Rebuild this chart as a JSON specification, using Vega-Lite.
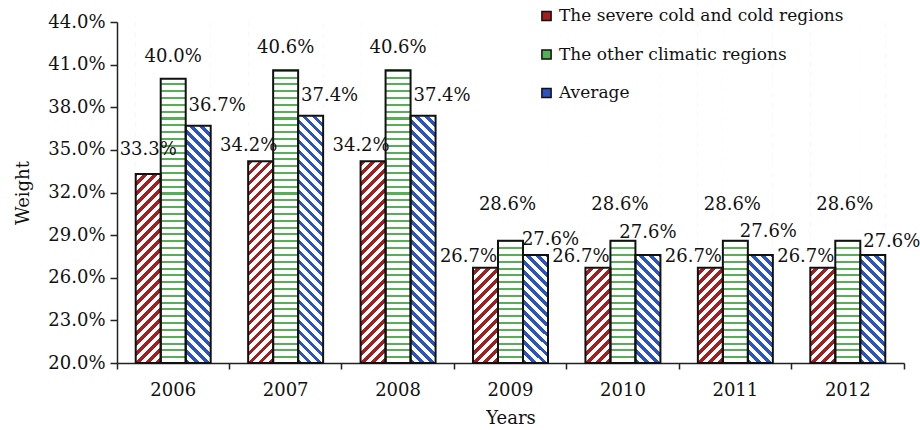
{
  "$schema": "https://vega.github.io/schema/vega-lite/v6.json",
  "width": 787,
  "height": 341,
  "autosize": {"type": "none"},
  "padding": {"left": 117, "top": 22, "right": 16, "bottom": 67},
  "background": "white",
  "config": {
    "view": {"stroke": null},
    "font": "DejaVu Serif",
    "axis": {
      "grid": false,
      "labelFont": "DejaVu Serif",
      "labelFontSize": 18,
      "labelColor": "#111",
      "titleFont": "DejaVu Serif",
      "titleFontSize": 18,
      "titleFontWeight": "normal",
      "titleColor": "#111",
      "domainColor": "#222",
      "domainWidth": 1.5,
      "tickColor": "#222",
      "tickWidth": 1.5
    }
  },
  "data": {
    "values": [
      {"year": "2006", "series": "The severe cold and cold regions", "value": 0.333},
      {"year": "2006", "series": "The other climatic regions", "value": 0.400},
      {"year": "2006", "series": "Average", "value": 0.367},
      {"year": "2007", "series": "The severe cold and cold regions", "value": 0.342},
      {"year": "2007", "series": "The other climatic regions", "value": 0.406},
      {"year": "2007", "series": "Average", "value": 0.374},
      {"year": "2008", "series": "The severe cold and cold regions", "value": 0.342},
      {"year": "2008", "series": "The other climatic regions", "value": 0.406},
      {"year": "2008", "series": "Average", "value": 0.374},
      {"year": "2009", "series": "The severe cold and cold regions", "value": 0.267},
      {"year": "2009", "series": "The other climatic regions", "value": 0.286},
      {"year": "2009", "series": "Average", "value": 0.276},
      {"year": "2010", "series": "The severe cold and cold regions", "value": 0.267},
      {"year": "2010", "series": "The other climatic regions", "value": 0.286},
      {"year": "2010", "series": "Average", "value": 0.276},
      {"year": "2011", "series": "The severe cold and cold regions", "value": 0.267},
      {"year": "2011", "series": "The other climatic regions", "value": 0.286},
      {"year": "2011", "series": "Average", "value": 0.276},
      {"year": "2012", "series": "The severe cold and cold regions", "value": 0.267},
      {"year": "2012", "series": "The other climatic regions", "value": 0.286},
      {"year": "2012", "series": "Average", "value": 0.276}
    ]
  },
  "encoding": {
    "x": {
      "field": "year",
      "type": "nominal",
      "scale": {"paddingInner": 0, "paddingOuter": 0},
      "axis": {"title": "Years", "labelAngle": 0, "bandPosition": 1, "tickExtra": true, "tickSize": 6, "labelPadding": 12, "titlePadding": 10}
    },
    "xOffset": {
      "field": "series",
      "type": "nominal",
      "scale": {"domain": ["The severe cold and cold regions", "The other climatic regions", "Average"], "paddingInner": 0, "paddingOuter": 0.749}
    },
    "y": {
      "field": "value",
      "type": "quantitative",
      "scale": {"domain": [0.2, 0.44], "zero": false, "nice": false},
      "axis": {"values": [0.2, 0.23, 0.26, 0.29, 0.32, 0.35, 0.38, 0.41, 0.44], "format": ".1%", "title": "Weight", "tickSize": 7, "labelPadding": 5, "titlePadding": 15}
    }
  },
  "layer": [
    {
      "description": "hatch fill: every column spans the full plot height so the stripe gradients share one bounding box",
      "mark": {"type": "bar"},
      "encoding": {
        "y": {
          "datum": 0.44,
          "type": "quantitative",
          "scale": {"domain": [0.2, 0.44], "zero": false, "nice": false},
          "axis": {"values": [0.2, 0.23, 0.26, 0.29, 0.32, 0.35, 0.38, 0.41, 0.44], "format": ".1%", "title": "Weight", "tickSize": 7, "labelPadding": 5, "titlePadding": 15}
        },
        "y2": {"datum": 0.2},
        "fill": {
          "condition": [
            {
              "test": "datum.series === 'The severe cold and cold regions'",
              "value": {
                "gradient": "linear", "x1": 0, "y1": 0, "x2": 0.0855, "y2": 1.1667,
                "stops": [
                  {"offset": 0, "color": "#a31f1f"}, {"offset": 0.012, "color": "#a31f1f"}, {"offset": 0.012, "color": "#fff"}, {"offset": 0.025, "color": "#fff"},
                  {"offset": 0.025, "color": "#a31f1f"}, {"offset": 0.037, "color": "#a31f1f"}, {"offset": 0.037, "color": "#fff"}, {"offset": 0.05, "color": "#fff"},
                  {"offset": 0.05, "color": "#a31f1f"}, {"offset": 0.062, "color": "#a31f1f"}, {"offset": 0.062, "color": "#fff"}, {"offset": 0.075, "color": "#fff"},
                  {"offset": 0.075, "color": "#a31f1f"}, {"offset": 0.087, "color": "#a31f1f"}, {"offset": 0.087, "color": "#fff"}, {"offset": 0.1, "color": "#fff"},
                  {"offset": 0.1, "color": "#a31f1f"}, {"offset": 0.112, "color": "#a31f1f"}, {"offset": 0.112, "color": "#fff"}, {"offset": 0.125, "color": "#fff"},
                  {"offset": 0.125, "color": "#a31f1f"}, {"offset": 0.137, "color": "#a31f1f"}, {"offset": 0.137, "color": "#fff"}, {"offset": 0.15, "color": "#fff"},
                  {"offset": 0.15, "color": "#a31f1f"}, {"offset": 0.162, "color": "#a31f1f"}, {"offset": 0.162, "color": "#fff"}, {"offset": 0.175, "color": "#fff"},
                  {"offset": 0.175, "color": "#a31f1f"}, {"offset": 0.187, "color": "#a31f1f"}, {"offset": 0.187, "color": "#fff"}, {"offset": 0.2, "color": "#fff"},
                  {"offset": 0.2, "color": "#a31f1f"}, {"offset": 0.212, "color": "#a31f1f"}, {"offset": 0.212, "color": "#fff"}, {"offset": 0.225, "color": "#fff"},
                  {"offset": 0.225, "color": "#a31f1f"}, {"offset": 0.237, "color": "#a31f1f"}, {"offset": 0.237, "color": "#fff"}, {"offset": 0.25, "color": "#fff"},
                  {"offset": 0.25, "color": "#a31f1f"}, {"offset": 0.262, "color": "#a31f1f"}, {"offset": 0.262, "color": "#fff"}, {"offset": 0.275, "color": "#fff"},
                  {"offset": 0.275, "color": "#a31f1f"}, {"offset": 0.287, "color": "#a31f1f"}, {"offset": 0.287, "color": "#fff"}, {"offset": 0.3, "color": "#fff"},
                  {"offset": 0.3, "color": "#a31f1f"}, {"offset": 0.312, "color": "#a31f1f"}, {"offset": 0.312, "color": "#fff"}, {"offset": 0.325, "color": "#fff"},
                  {"offset": 0.325, "color": "#a31f1f"}, {"offset": 0.337, "color": "#a31f1f"}, {"offset": 0.337, "color": "#fff"}, {"offset": 0.35, "color": "#fff"},
                  {"offset": 0.35, "color": "#a31f1f"}, {"offset": 0.362, "color": "#a31f1f"}, {"offset": 0.362, "color": "#fff"}, {"offset": 0.375, "color": "#fff"},
                  {"offset": 0.375, "color": "#a31f1f"}, {"offset": 0.387, "color": "#a31f1f"}, {"offset": 0.387, "color": "#fff"}, {"offset": 0.4, "color": "#fff"},
                  {"offset": 0.4, "color": "#a31f1f"}, {"offset": 0.412, "color": "#a31f1f"}, {"offset": 0.412, "color": "#fff"}, {"offset": 0.425, "color": "#fff"},
                  {"offset": 0.425, "color": "#a31f1f"}, {"offset": 0.437, "color": "#a31f1f"}, {"offset": 0.437, "color": "#fff"}, {"offset": 0.45, "color": "#fff"},
                  {"offset": 0.45, "color": "#a31f1f"}, {"offset": 0.462, "color": "#a31f1f"}, {"offset": 0.462, "color": "#fff"}, {"offset": 0.475, "color": "#fff"},
                  {"offset": 0.475, "color": "#a31f1f"}, {"offset": 0.487, "color": "#a31f1f"}, {"offset": 0.487, "color": "#fff"}, {"offset": 0.5, "color": "#fff"},
                  {"offset": 0.5, "color": "#a31f1f"}, {"offset": 0.512, "color": "#a31f1f"}, {"offset": 0.512, "color": "#fff"}, {"offset": 0.525, "color": "#fff"},
                  {"offset": 0.525, "color": "#a31f1f"}, {"offset": 0.537, "color": "#a31f1f"}, {"offset": 0.537, "color": "#fff"}, {"offset": 0.55, "color": "#fff"},
                  {"offset": 0.55, "color": "#a31f1f"}, {"offset": 0.562, "color": "#a31f1f"}, {"offset": 0.562, "color": "#fff"}, {"offset": 0.575, "color": "#fff"},
                  {"offset": 0.575, "color": "#a31f1f"}, {"offset": 0.587, "color": "#a31f1f"}, {"offset": 0.587, "color": "#fff"}, {"offset": 0.6, "color": "#fff"},
                  {"offset": 0.6, "color": "#a31f1f"}, {"offset": 0.612, "color": "#a31f1f"}, {"offset": 0.612, "color": "#fff"}, {"offset": 0.625, "color": "#fff"},
                  {"offset": 0.625, "color": "#a31f1f"}, {"offset": 0.637, "color": "#a31f1f"}, {"offset": 0.637, "color": "#fff"}, {"offset": 0.65, "color": "#fff"},
                  {"offset": 0.65, "color": "#a31f1f"}, {"offset": 0.662, "color": "#a31f1f"}, {"offset": 0.662, "color": "#fff"}, {"offset": 0.675, "color": "#fff"},
                  {"offset": 0.675, "color": "#a31f1f"}, {"offset": 0.687, "color": "#a31f1f"}, {"offset": 0.687, "color": "#fff"}, {"offset": 0.7, "color": "#fff"},
                  {"offset": 0.7, "color": "#a31f1f"}, {"offset": 0.712, "color": "#a31f1f"}, {"offset": 0.712, "color": "#fff"}, {"offset": 0.725, "color": "#fff"},
                  {"offset": 0.725, "color": "#a31f1f"}, {"offset": 0.737, "color": "#a31f1f"}, {"offset": 0.737, "color": "#fff"}, {"offset": 0.75, "color": "#fff"},
                  {"offset": 0.75, "color": "#a31f1f"}, {"offset": 0.762, "color": "#a31f1f"}, {"offset": 0.762, "color": "#fff"}, {"offset": 0.775, "color": "#fff"},
                  {"offset": 0.775, "color": "#a31f1f"}, {"offset": 0.787, "color": "#a31f1f"}, {"offset": 0.787, "color": "#fff"}, {"offset": 0.8, "color": "#fff"},
                  {"offset": 0.8, "color": "#a31f1f"}, {"offset": 0.812, "color": "#a31f1f"}, {"offset": 0.812, "color": "#fff"}, {"offset": 0.825, "color": "#fff"},
                  {"offset": 0.825, "color": "#a31f1f"}, {"offset": 0.837, "color": "#a31f1f"}, {"offset": 0.837, "color": "#fff"}, {"offset": 0.85, "color": "#fff"},
                  {"offset": 0.85, "color": "#a31f1f"}, {"offset": 0.862, "color": "#a31f1f"}, {"offset": 0.862, "color": "#fff"}, {"offset": 0.875, "color": "#fff"},
                  {"offset": 0.875, "color": "#a31f1f"}, {"offset": 0.887, "color": "#a31f1f"}, {"offset": 0.887, "color": "#fff"}, {"offset": 0.9, "color": "#fff"},
                  {"offset": 0.9, "color": "#a31f1f"}, {"offset": 0.912, "color": "#a31f1f"}, {"offset": 0.912, "color": "#fff"}, {"offset": 0.925, "color": "#fff"},
                  {"offset": 0.925, "color": "#a31f1f"}, {"offset": 0.937, "color": "#a31f1f"}, {"offset": 0.937, "color": "#fff"}, {"offset": 0.95, "color": "#fff"},
                  {"offset": 0.95, "color": "#a31f1f"}, {"offset": 0.962, "color": "#a31f1f"}, {"offset": 0.962, "color": "#fff"}, {"offset": 0.975, "color": "#fff"},
                  {"offset": 0.975, "color": "#a31f1f"}, {"offset": 0.987, "color": "#a31f1f"}, {"offset": 0.987, "color": "#fff"}, {"offset": 1, "color": "#fff"}
                ]
              }
            },
            {
              "test": "datum.series === 'The other climatic regions'",
              "value": {
                "gradient": "linear", "x1": 0, "y1": 0, "x2": 0, "y2": 1,
                "stops": [
                  {"offset": 0, "color": "#55b055"}, {"offset": 0.006, "color": "#55b055"}, {"offset": 0.006, "color": "#fff"}, {"offset": 0.02, "color": "#fff"},
                  {"offset": 0.02, "color": "#55b055"}, {"offset": 0.026, "color": "#55b055"}, {"offset": 0.026, "color": "#fff"}, {"offset": 0.04, "color": "#fff"},
                  {"offset": 0.04, "color": "#55b055"}, {"offset": 0.046, "color": "#55b055"}, {"offset": 0.046, "color": "#fff"}, {"offset": 0.06, "color": "#fff"},
                  {"offset": 0.06, "color": "#55b055"}, {"offset": 0.066, "color": "#55b055"}, {"offset": 0.066, "color": "#fff"}, {"offset": 0.08, "color": "#fff"},
                  {"offset": 0.08, "color": "#55b055"}, {"offset": 0.086, "color": "#55b055"}, {"offset": 0.086, "color": "#fff"}, {"offset": 0.1, "color": "#fff"},
                  {"offset": 0.1, "color": "#55b055"}, {"offset": 0.106, "color": "#55b055"}, {"offset": 0.106, "color": "#fff"}, {"offset": 0.12, "color": "#fff"},
                  {"offset": 0.12, "color": "#55b055"}, {"offset": 0.126, "color": "#55b055"}, {"offset": 0.126, "color": "#fff"}, {"offset": 0.14, "color": "#fff"},
                  {"offset": 0.14, "color": "#55b055"}, {"offset": 0.146, "color": "#55b055"}, {"offset": 0.146, "color": "#fff"}, {"offset": 0.16, "color": "#fff"},
                  {"offset": 0.16, "color": "#55b055"}, {"offset": 0.166, "color": "#55b055"}, {"offset": 0.166, "color": "#fff"}, {"offset": 0.18, "color": "#fff"},
                  {"offset": 0.18, "color": "#55b055"}, {"offset": 0.186, "color": "#55b055"}, {"offset": 0.186, "color": "#fff"}, {"offset": 0.2, "color": "#fff"},
                  {"offset": 0.2, "color": "#55b055"}, {"offset": 0.206, "color": "#55b055"}, {"offset": 0.206, "color": "#fff"}, {"offset": 0.22, "color": "#fff"},
                  {"offset": 0.22, "color": "#55b055"}, {"offset": 0.226, "color": "#55b055"}, {"offset": 0.226, "color": "#fff"}, {"offset": 0.24, "color": "#fff"},
                  {"offset": 0.24, "color": "#55b055"}, {"offset": 0.246, "color": "#55b055"}, {"offset": 0.246, "color": "#fff"}, {"offset": 0.26, "color": "#fff"},
                  {"offset": 0.26, "color": "#55b055"}, {"offset": 0.266, "color": "#55b055"}, {"offset": 0.266, "color": "#fff"}, {"offset": 0.28, "color": "#fff"},
                  {"offset": 0.28, "color": "#55b055"}, {"offset": 0.286, "color": "#55b055"}, {"offset": 0.286, "color": "#fff"}, {"offset": 0.3, "color": "#fff"},
                  {"offset": 0.3, "color": "#55b055"}, {"offset": 0.306, "color": "#55b055"}, {"offset": 0.306, "color": "#fff"}, {"offset": 0.32, "color": "#fff"},
                  {"offset": 0.32, "color": "#55b055"}, {"offset": 0.326, "color": "#55b055"}, {"offset": 0.326, "color": "#fff"}, {"offset": 0.34, "color": "#fff"},
                  {"offset": 0.34, "color": "#55b055"}, {"offset": 0.346, "color": "#55b055"}, {"offset": 0.346, "color": "#fff"}, {"offset": 0.36, "color": "#fff"},
                  {"offset": 0.36, "color": "#55b055"}, {"offset": 0.366, "color": "#55b055"}, {"offset": 0.366, "color": "#fff"}, {"offset": 0.38, "color": "#fff"},
                  {"offset": 0.38, "color": "#55b055"}, {"offset": 0.386, "color": "#55b055"}, {"offset": 0.386, "color": "#fff"}, {"offset": 0.4, "color": "#fff"},
                  {"offset": 0.4, "color": "#55b055"}, {"offset": 0.406, "color": "#55b055"}, {"offset": 0.406, "color": "#fff"}, {"offset": 0.42, "color": "#fff"},
                  {"offset": 0.42, "color": "#55b055"}, {"offset": 0.426, "color": "#55b055"}, {"offset": 0.426, "color": "#fff"}, {"offset": 0.44, "color": "#fff"},
                  {"offset": 0.44, "color": "#55b055"}, {"offset": 0.446, "color": "#55b055"}, {"offset": 0.446, "color": "#fff"}, {"offset": 0.46, "color": "#fff"},
                  {"offset": 0.46, "color": "#55b055"}, {"offset": 0.466, "color": "#55b055"}, {"offset": 0.466, "color": "#fff"}, {"offset": 0.48, "color": "#fff"},
                  {"offset": 0.48, "color": "#55b055"}, {"offset": 0.486, "color": "#55b055"}, {"offset": 0.486, "color": "#fff"}, {"offset": 0.5, "color": "#fff"},
                  {"offset": 0.5, "color": "#55b055"}, {"offset": 0.506, "color": "#55b055"}, {"offset": 0.506, "color": "#fff"}, {"offset": 0.52, "color": "#fff"},
                  {"offset": 0.52, "color": "#55b055"}, {"offset": 0.526, "color": "#55b055"}, {"offset": 0.526, "color": "#fff"}, {"offset": 0.54, "color": "#fff"},
                  {"offset": 0.54, "color": "#55b055"}, {"offset": 0.546, "color": "#55b055"}, {"offset": 0.546, "color": "#fff"}, {"offset": 0.56, "color": "#fff"},
                  {"offset": 0.56, "color": "#55b055"}, {"offset": 0.566, "color": "#55b055"}, {"offset": 0.566, "color": "#fff"}, {"offset": 0.58, "color": "#fff"},
                  {"offset": 0.58, "color": "#55b055"}, {"offset": 0.586, "color": "#55b055"}, {"offset": 0.586, "color": "#fff"}, {"offset": 0.6, "color": "#fff"},
                  {"offset": 0.6, "color": "#55b055"}, {"offset": 0.606, "color": "#55b055"}, {"offset": 0.606, "color": "#fff"}, {"offset": 0.62, "color": "#fff"},
                  {"offset": 0.62, "color": "#55b055"}, {"offset": 0.626, "color": "#55b055"}, {"offset": 0.626, "color": "#fff"}, {"offset": 0.64, "color": "#fff"},
                  {"offset": 0.64, "color": "#55b055"}, {"offset": 0.646, "color": "#55b055"}, {"offset": 0.646, "color": "#fff"}, {"offset": 0.66, "color": "#fff"},
                  {"offset": 0.66, "color": "#55b055"}, {"offset": 0.666, "color": "#55b055"}, {"offset": 0.666, "color": "#fff"}, {"offset": 0.68, "color": "#fff"},
                  {"offset": 0.68, "color": "#55b055"}, {"offset": 0.686, "color": "#55b055"}, {"offset": 0.686, "color": "#fff"}, {"offset": 0.7, "color": "#fff"},
                  {"offset": 0.7, "color": "#55b055"}, {"offset": 0.706, "color": "#55b055"}, {"offset": 0.706, "color": "#fff"}, {"offset": 0.72, "color": "#fff"},
                  {"offset": 0.72, "color": "#55b055"}, {"offset": 0.726, "color": "#55b055"}, {"offset": 0.726, "color": "#fff"}, {"offset": 0.74, "color": "#fff"},
                  {"offset": 0.74, "color": "#55b055"}, {"offset": 0.746, "color": "#55b055"}, {"offset": 0.746, "color": "#fff"}, {"offset": 0.76, "color": "#fff"},
                  {"offset": 0.76, "color": "#55b055"}, {"offset": 0.766, "color": "#55b055"}, {"offset": 0.766, "color": "#fff"}, {"offset": 0.78, "color": "#fff"},
                  {"offset": 0.78, "color": "#55b055"}, {"offset": 0.786, "color": "#55b055"}, {"offset": 0.786, "color": "#fff"}, {"offset": 0.8, "color": "#fff"},
                  {"offset": 0.8, "color": "#55b055"}, {"offset": 0.806, "color": "#55b055"}, {"offset": 0.806, "color": "#fff"}, {"offset": 0.82, "color": "#fff"},
                  {"offset": 0.82, "color": "#55b055"}, {"offset": 0.826, "color": "#55b055"}, {"offset": 0.826, "color": "#fff"}, {"offset": 0.84, "color": "#fff"},
                  {"offset": 0.84, "color": "#55b055"}, {"offset": 0.846, "color": "#55b055"}, {"offset": 0.846, "color": "#fff"}, {"offset": 0.86, "color": "#fff"},
                  {"offset": 0.86, "color": "#55b055"}, {"offset": 0.866, "color": "#55b055"}, {"offset": 0.866, "color": "#fff"}, {"offset": 0.88, "color": "#fff"},
                  {"offset": 0.88, "color": "#55b055"}, {"offset": 0.886, "color": "#55b055"}, {"offset": 0.886, "color": "#fff"}, {"offset": 0.9, "color": "#fff"},
                  {"offset": 0.9, "color": "#55b055"}, {"offset": 0.906, "color": "#55b055"}, {"offset": 0.906, "color": "#fff"}, {"offset": 0.92, "color": "#fff"},
                  {"offset": 0.92, "color": "#55b055"}, {"offset": 0.926, "color": "#55b055"}, {"offset": 0.926, "color": "#fff"}, {"offset": 0.94, "color": "#fff"},
                  {"offset": 0.94, "color": "#55b055"}, {"offset": 0.946, "color": "#55b055"}, {"offset": 0.946, "color": "#fff"}, {"offset": 0.96, "color": "#fff"},
                  {"offset": 0.96, "color": "#55b055"}, {"offset": 0.966, "color": "#55b055"}, {"offset": 0.966, "color": "#fff"}, {"offset": 0.98, "color": "#fff"},
                  {"offset": 0.98, "color": "#55b055"}, {"offset": 0.986, "color": "#55b055"}, {"offset": 0.986, "color": "#fff"}, {"offset": 1, "color": "#fff"}
                ]
              }
            }
          ],
          "value": {
            "gradient": "linear", "x1": 0, "y1": 1, "x2": 0.0855, "y2": -0.1667,
            "stops": [
              {"offset": 0, "color": "#2c53c2"}, {"offset": 0.012, "color": "#2c53c2"}, {"offset": 0.012, "color": "#fff"}, {"offset": 0.025, "color": "#fff"},
              {"offset": 0.025, "color": "#2c53c2"}, {"offset": 0.037, "color": "#2c53c2"}, {"offset": 0.037, "color": "#fff"}, {"offset": 0.05, "color": "#fff"},
              {"offset": 0.05, "color": "#2c53c2"}, {"offset": 0.062, "color": "#2c53c2"}, {"offset": 0.062, "color": "#fff"}, {"offset": 0.075, "color": "#fff"},
              {"offset": 0.075, "color": "#2c53c2"}, {"offset": 0.087, "color": "#2c53c2"}, {"offset": 0.087, "color": "#fff"}, {"offset": 0.1, "color": "#fff"},
              {"offset": 0.1, "color": "#2c53c2"}, {"offset": 0.112, "color": "#2c53c2"}, {"offset": 0.112, "color": "#fff"}, {"offset": 0.125, "color": "#fff"},
              {"offset": 0.125, "color": "#2c53c2"}, {"offset": 0.137, "color": "#2c53c2"}, {"offset": 0.137, "color": "#fff"}, {"offset": 0.15, "color": "#fff"},
              {"offset": 0.15, "color": "#2c53c2"}, {"offset": 0.162, "color": "#2c53c2"}, {"offset": 0.162, "color": "#fff"}, {"offset": 0.175, "color": "#fff"},
              {"offset": 0.175, "color": "#2c53c2"}, {"offset": 0.187, "color": "#2c53c2"}, {"offset": 0.187, "color": "#fff"}, {"offset": 0.2, "color": "#fff"},
              {"offset": 0.2, "color": "#2c53c2"}, {"offset": 0.212, "color": "#2c53c2"}, {"offset": 0.212, "color": "#fff"}, {"offset": 0.225, "color": "#fff"},
              {"offset": 0.225, "color": "#2c53c2"}, {"offset": 0.237, "color": "#2c53c2"}, {"offset": 0.237, "color": "#fff"}, {"offset": 0.25, "color": "#fff"},
              {"offset": 0.25, "color": "#2c53c2"}, {"offset": 0.262, "color": "#2c53c2"}, {"offset": 0.262, "color": "#fff"}, {"offset": 0.275, "color": "#fff"},
              {"offset": 0.275, "color": "#2c53c2"}, {"offset": 0.287, "color": "#2c53c2"}, {"offset": 0.287, "color": "#fff"}, {"offset": 0.3, "color": "#fff"},
              {"offset": 0.3, "color": "#2c53c2"}, {"offset": 0.312, "color": "#2c53c2"}, {"offset": 0.312, "color": "#fff"}, {"offset": 0.325, "color": "#fff"},
              {"offset": 0.325, "color": "#2c53c2"}, {"offset": 0.337, "color": "#2c53c2"}, {"offset": 0.337, "color": "#fff"}, {"offset": 0.35, "color": "#fff"},
              {"offset": 0.35, "color": "#2c53c2"}, {"offset": 0.362, "color": "#2c53c2"}, {"offset": 0.362, "color": "#fff"}, {"offset": 0.375, "color": "#fff"},
              {"offset": 0.375, "color": "#2c53c2"}, {"offset": 0.387, "color": "#2c53c2"}, {"offset": 0.387, "color": "#fff"}, {"offset": 0.4, "color": "#fff"},
              {"offset": 0.4, "color": "#2c53c2"}, {"offset": 0.412, "color": "#2c53c2"}, {"offset": 0.412, "color": "#fff"}, {"offset": 0.425, "color": "#fff"},
              {"offset": 0.425, "color": "#2c53c2"}, {"offset": 0.437, "color": "#2c53c2"}, {"offset": 0.437, "color": "#fff"}, {"offset": 0.45, "color": "#fff"},
              {"offset": 0.45, "color": "#2c53c2"}, {"offset": 0.462, "color": "#2c53c2"}, {"offset": 0.462, "color": "#fff"}, {"offset": 0.475, "color": "#fff"},
              {"offset": 0.475, "color": "#2c53c2"}, {"offset": 0.487, "color": "#2c53c2"}, {"offset": 0.487, "color": "#fff"}, {"offset": 0.5, "color": "#fff"},
              {"offset": 0.5, "color": "#2c53c2"}, {"offset": 0.512, "color": "#2c53c2"}, {"offset": 0.512, "color": "#fff"}, {"offset": 0.525, "color": "#fff"},
              {"offset": 0.525, "color": "#2c53c2"}, {"offset": 0.537, "color": "#2c53c2"}, {"offset": 0.537, "color": "#fff"}, {"offset": 0.55, "color": "#fff"},
              {"offset": 0.55, "color": "#2c53c2"}, {"offset": 0.562, "color": "#2c53c2"}, {"offset": 0.562, "color": "#fff"}, {"offset": 0.575, "color": "#fff"},
              {"offset": 0.575, "color": "#2c53c2"}, {"offset": 0.587, "color": "#2c53c2"}, {"offset": 0.587, "color": "#fff"}, {"offset": 0.6, "color": "#fff"},
              {"offset": 0.6, "color": "#2c53c2"}, {"offset": 0.612, "color": "#2c53c2"}, {"offset": 0.612, "color": "#fff"}, {"offset": 0.625, "color": "#fff"},
              {"offset": 0.625, "color": "#2c53c2"}, {"offset": 0.637, "color": "#2c53c2"}, {"offset": 0.637, "color": "#fff"}, {"offset": 0.65, "color": "#fff"},
              {"offset": 0.65, "color": "#2c53c2"}, {"offset": 0.662, "color": "#2c53c2"}, {"offset": 0.662, "color": "#fff"}, {"offset": 0.675, "color": "#fff"},
              {"offset": 0.675, "color": "#2c53c2"}, {"offset": 0.687, "color": "#2c53c2"}, {"offset": 0.687, "color": "#fff"}, {"offset": 0.7, "color": "#fff"},
              {"offset": 0.7, "color": "#2c53c2"}, {"offset": 0.712, "color": "#2c53c2"}, {"offset": 0.712, "color": "#fff"}, {"offset": 0.725, "color": "#fff"},
              {"offset": 0.725, "color": "#2c53c2"}, {"offset": 0.737, "color": "#2c53c2"}, {"offset": 0.737, "color": "#fff"}, {"offset": 0.75, "color": "#fff"},
              {"offset": 0.75, "color": "#2c53c2"}, {"offset": 0.762, "color": "#2c53c2"}, {"offset": 0.762, "color": "#fff"}, {"offset": 0.775, "color": "#fff"},
              {"offset": 0.775, "color": "#2c53c2"}, {"offset": 0.787, "color": "#2c53c2"}, {"offset": 0.787, "color": "#fff"}, {"offset": 0.8, "color": "#fff"},
              {"offset": 0.8, "color": "#2c53c2"}, {"offset": 0.812, "color": "#2c53c2"}, {"offset": 0.812, "color": "#fff"}, {"offset": 0.825, "color": "#fff"},
              {"offset": 0.825, "color": "#2c53c2"}, {"offset": 0.837, "color": "#2c53c2"}, {"offset": 0.837, "color": "#fff"}, {"offset": 0.85, "color": "#fff"},
              {"offset": 0.85, "color": "#2c53c2"}, {"offset": 0.862, "color": "#2c53c2"}, {"offset": 0.862, "color": "#fff"}, {"offset": 0.875, "color": "#fff"},
              {"offset": 0.875, "color": "#2c53c2"}, {"offset": 0.887, "color": "#2c53c2"}, {"offset": 0.887, "color": "#fff"}, {"offset": 0.9, "color": "#fff"},
              {"offset": 0.9, "color": "#2c53c2"}, {"offset": 0.912, "color": "#2c53c2"}, {"offset": 0.912, "color": "#fff"}, {"offset": 0.925, "color": "#fff"},
              {"offset": 0.925, "color": "#2c53c2"}, {"offset": 0.937, "color": "#2c53c2"}, {"offset": 0.937, "color": "#fff"}, {"offset": 0.95, "color": "#fff"},
              {"offset": 0.95, "color": "#2c53c2"}, {"offset": 0.962, "color": "#2c53c2"}, {"offset": 0.962, "color": "#fff"}, {"offset": 0.975, "color": "#fff"},
              {"offset": 0.975, "color": "#2c53c2"}, {"offset": 0.987, "color": "#2c53c2"}, {"offset": 0.987, "color": "#fff"}, {"offset": 1, "color": "#fff"}
            ]
          }
        }
      }
    },
    {
      "description": "white mask above each value so only the part of the hatch below the bar top shows",
      "mark": {"type": "bar", "fill": "white", "stroke": "white", "strokeWidth": 1},
      "encoding": {"y2": {"datum": 0.44}}
    },
    {
      "description": "bar outlines, which also carry the legend",
      "mark": {"type": "bar", "fillOpacity": 0, "stroke": "#111", "strokeWidth": 2},
      "encoding": {
        "y2": {"datum": 0.2},
        "fill": {
          "field": "series",
          "type": "nominal",
          "scale": {"domain": ["The severe cold and cold regions", "The other climatic regions", "Average"], "range": ["#a31f1f", "#55b055", "#2c53c2"]},
          "legend": {
            "title": null,
            "orient": "none",
            "legendX": 421,
            "legendY": -14.5,
            "direction": "vertical",
            "padding": 0,
            "symbolType": "square",
            "symbolSize": 85,
            "symbolStrokeColor": "#111",
            "symbolStrokeWidth": 1.5,
            "labelFont": "DejaVu Serif",
            "labelFontSize": 17,
            "labelColor": "#111",
            "labelOffset": 4,
            "labelLimit": 400,
            "rowPadding": 20.5
          }
        }
      }
    },
    {
      "transform": [{"filter": "datum.series === 'The severe cold and cold regions' && datum.year === '2006'"}],
      "mark": {"type": "text", "font": "DejaVu Serif", "fontSize": 18, "fill": "#111", "baseline": "middle", "dx": 0, "dy": -24},
      "encoding": {"text": {"field": "value", "type": "quantitative", "format": ".1%"}}
    },
    {
      "transform": [{"filter": "datum.series === 'The severe cold and cold regions' && (datum.year === '2007' || datum.year === '2008')"}],
      "mark": {"type": "text", "font": "DejaVu Serif", "fontSize": 18, "fill": "#111", "baseline": "middle", "dx": -12, "dy": -15},
      "encoding": {"text": {"field": "value", "type": "quantitative", "format": ".1%"}}
    },
    {
      "transform": [{"filter": "datum.series === 'The severe cold and cold regions' && datum.year >= '2009'"}],
      "mark": {"type": "text", "font": "DejaVu Serif", "fontSize": 18, "fill": "#111", "baseline": "middle", "dx": -17, "dy": -11},
      "encoding": {"text": {"field": "value", "type": "quantitative", "format": ".1%"}}
    },
    {
      "transform": [{"filter": "datum.series === 'The other climatic regions' && datum.year <= '2008'"}],
      "mark": {"type": "text", "font": "DejaVu Serif", "fontSize": 18, "fill": "#111", "baseline": "middle", "dx": 0, "dy": -22},
      "encoding": {"text": {"field": "value", "type": "quantitative", "format": ".1%"}}
    },
    {
      "transform": [{"filter": "datum.series === 'The other climatic regions' && datum.year >= '2009'"}],
      "mark": {"type": "text", "font": "DejaVu Serif", "fontSize": 18, "fill": "#111", "baseline": "middle", "dx": -3, "dy": -36},
      "encoding": {"text": {"field": "value", "type": "quantitative", "format": ".1%"}}
    },
    {
      "transform": [{"filter": "datum.series === 'Average' && datum.year <= '2008'"}],
      "mark": {"type": "text", "font": "DejaVu Serif", "fontSize": 18, "fill": "#111", "baseline": "middle", "dx": 19, "dy": -20},
      "encoding": {"text": {"field": "value", "type": "quantitative", "format": ".1%"}}
    },
    {
      "transform": [{"filter": "datum.series === 'Average' && datum.year === '2009'"}],
      "mark": {"type": "text", "font": "DejaVu Serif", "fontSize": 18, "fill": "#111", "baseline": "middle", "dx": 15, "dy": -15},
      "encoding": {"text": {"field": "value", "type": "quantitative", "format": ".1%"}}
    },
    {
      "transform": [{"filter": "datum.series === 'Average' && datum.year === '2010'"}],
      "mark": {"type": "text", "font": "DejaVu Serif", "fontSize": 18, "fill": "#111", "baseline": "middle", "dx": 0, "dy": -22},
      "encoding": {"text": {"field": "value", "type": "quantitative", "format": ".1%"}}
    },
    {
      "transform": [{"filter": "datum.series === 'Average' && datum.year === '2011'"}],
      "mark": {"type": "text", "font": "DejaVu Serif", "fontSize": 18, "fill": "#111", "baseline": "middle", "dx": 8, "dy": -23},
      "encoding": {"text": {"field": "value", "type": "quantitative", "format": ".1%"}}
    },
    {
      "transform": [{"filter": "datum.series === 'Average' && datum.year === '2012'"}],
      "mark": {"type": "text", "font": "DejaVu Serif", "fontSize": 18, "fill": "#111", "baseline": "middle", "dx": 19, "dy": -13},
      "encoding": {"text": {"field": "value", "type": "quantitative", "format": ".1%"}}
    }
  ]
}
